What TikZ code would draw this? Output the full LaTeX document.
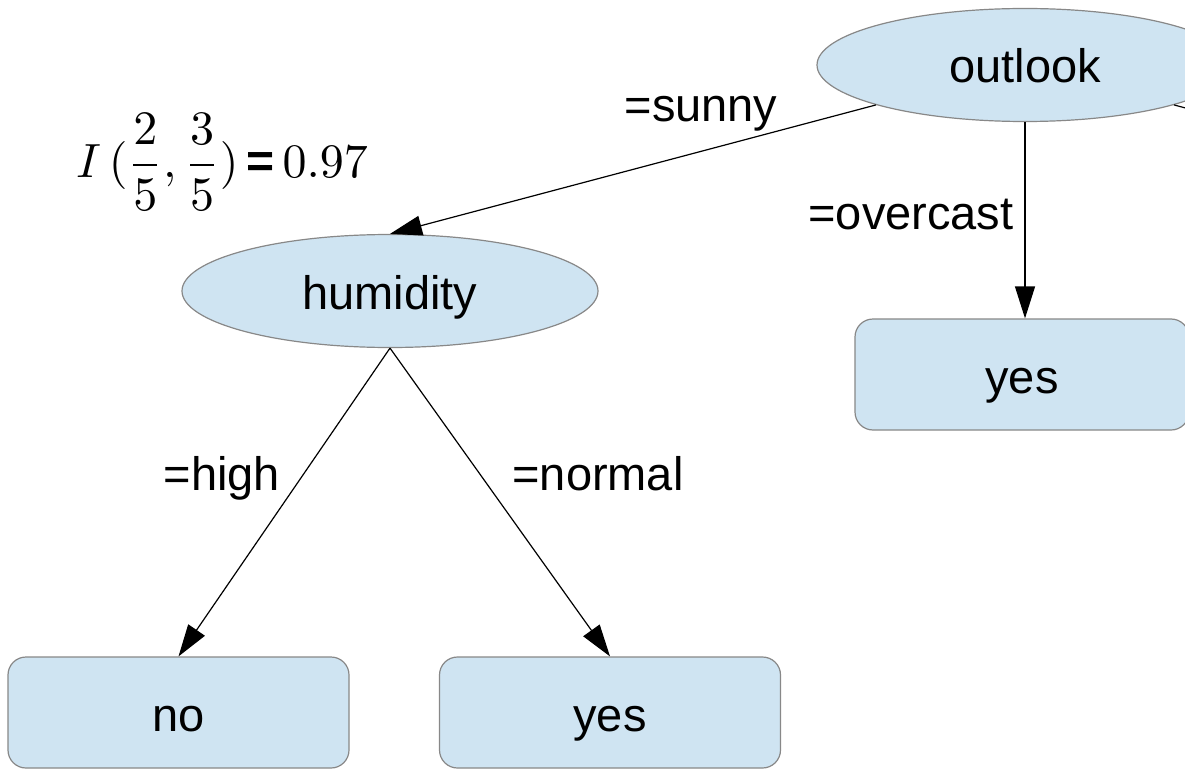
\documentclass[tikz,border=0pt]{standalone}
\usepackage{amsmath}
\usepackage{fontspec}
\setmainfont{Liberation Sans}
\usetikzlibrary{shapes.geometric,arrows.meta}
\definecolor{nodefill}{HTML}{CFE4F2}
\definecolor{nodeedge}{HTML}{888888}
\begin{document}
\begin{tikzpicture}[x=1pt,y=-1pt,
  attr/.style={ellipse, draw=nodeedge, fill=nodefill, line width=1.2pt,
    minimum width=416pt, minimum height=113pt, inner sep=0pt,
    text height=36pt, text depth=0pt,
    font=\fontsize{47}{56}\selectfont},
  leaf/.style={rectangle, rounded corners=18pt, draw=nodeedge, fill=nodefill,
    line width=1.2pt, minimum height=111pt, inner sep=0pt,
    text height=37pt, text depth=0pt,
    font=\fontsize{47}{56}\selectfont},
  edgearrow/.style={-{Triangle[length=32pt,width=20pt]}, line width=1.2pt, black},
  lbl/.style={font=\fontsize{47}{56}\selectfont, inner sep=0pt, anchor=base}]
\useasboundingbox (0,0) rectangle (1185,770);
\clip (0,0) rectangle (1185,770);
\fill[white] (0,0) rectangle (1185,770);

\node[attr] (outlook) at (1025,65) {outlook};
\node[attr] (humidity) at (390,291) {humidity};
\node[leaf, minimum width=334pt] (yesA) at (1022,374.5) {yes};
\node[leaf, minimum width=341pt] (no) at (178.5,712.5) {no};
\node[leaf, minimum width=341pt] (yesB) at (610,712.5) {yes};
\coordinate (rainy) at (1660,235);

\draw[edgearrow] (outlook.195) -- (humidity.north);
\draw[edgearrow] (outlook.-15) -- (rainy);
\draw[edgearrow] (outlook.south) -- (outlook.south |- yesA.north);
\draw[edgearrow] (humidity.south) -- (no.north);
\draw[edgearrow] (humidity.south) -- (yesB.north);

\node[lbl] (lsunny) at (701,122) {=sunny};
\node[lbl] (lover) at (911,229) {=overcast};
\node[lbl] (lhigh) at (222,490) {=high};
\node[lbl] (lnormal) at (598,490) {=normal};
\node[scale=4.8, inner sep=0pt] (formula) at (222,162) {$I\,(\dfrac{2}{5},\dfrac{3}{5})$\,\textbf{=}\,$0.97$};
\end{tikzpicture}
\end{document}
